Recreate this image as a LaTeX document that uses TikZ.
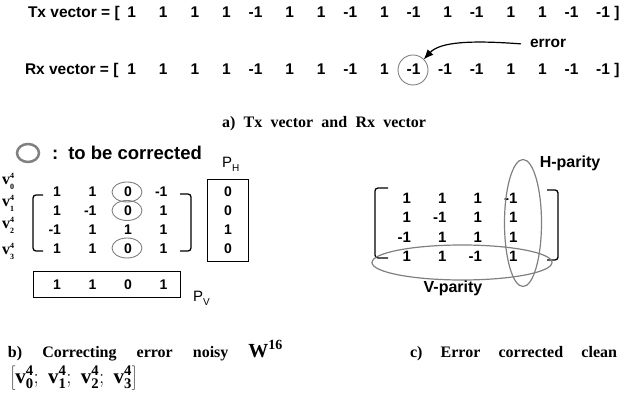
\documentclass[tikz,border=0pt]{standalone}
\usepackage{fontspec}
\setmainfont{Liberation Serif}
\newfontfamily\arialf{Liberation Sans}
\usetikzlibrary{arrows.meta,shapes.geometric}

\begin{document}
\begin{tikzpicture}[x=1pt,y=-1pt,
  every node/.style={inner sep=0pt,outer sep=0pt},
  vec/.style={font=\arialf\bfseries\fontsize{15.5}{16}\selectfont,anchor=base east},
  digb/.style={font=\arialf\bfseries\fontsize{14}{14}\selectfont,anchor=base east},
  digc/.style={font=\arialf\bfseries\fontsize{15}{15}\selectfont,anchor=base east},
  lbl/.style={font=\arialf\bfseries\fontsize{16}{16}\selectfont},
  pfont/.style={font=\arialf\fontsize{15}{15}\selectfont,anchor=base west},
  vtag/.style={font=\fontsize{16}{16}\selectfont,anchor=base west},
  captext/.style={font=\bfseries\fontsize{16}{16}\selectfont,anchor=base west},
  ringmark/.style={circle,draw=gray,line width=0.9pt},
  oval/.style={ellipse,draw=gray,line width=0.9pt,minimum width=30,minimum height=20},
  brk/.style={line width=1.3pt,rounded corners=3pt},
  pbox/.style={draw,line width=1pt}]
\useasboundingbox (0,0) rectangle (624,395);

% ---------- a) transmitted and received vectors ----------
\node[vec,anchor=base west] (txlab) at (28,18) {Tx vector = [};
\foreach \v [count=\i from 0] in {1,1,1,1,-1,1,1,-1,1,-1,1,-1,1,1,-1,-1}
  \node[vec] (tx\i) at ({136+31.6*\i},18) {\v};
\node[vec,anchor=base] (txend) at (617,18) {]};

\node[vec,anchor=base west] (rxlab) at (25,75) {Rx vector = [};
\foreach \v [count=\i from 0] in {1,1,1,1,-1,1,1,-1,1,-1,-1,-1,1,1,-1,-1}
  \node[vec] (rx\i) at ({136+31.6*\i},75) {\v};
\node[vec,anchor=base] (rxend) at (617,75) {]};

\node[ringmark,minimum size=30] (rxc) at (413,70) {};
\node[vec,anchor=base west] (err) at (530,48) {error};
\draw[line width=1.2pt,-{Latex[length=10pt,width=8pt]}]
  ([xshift=-9pt]err.west) .. controls (470,40) and (440,42) .. (rxc.45);

\node[captext,anchor=base] (capa) at (324,128)
  {\makebox[204pt][s]{a) Tx vector and Rx vector}};

% ---------- b) noisy block with parities ----------
\node[ellipse,draw=gray,line width=2.5pt,minimum width=22,minimum height=18] (leg) at (28,153) {};
\node[lbl,font=\arialf\bfseries\fontsize{18.5}{18.5}\selectfont,anchor=west] (legt) at (52,153)
  {:\hspace{0.55em}to be corrected};

\node[pfont] (ph) at (222,168) {P\raisebox{-4pt}{\fontsize{10}{10}\selectfont H}};
\node[pbox,minimum width=41,minimum height=82] (phbox) at (227.5,221) {};
\foreach \v [count=\i from 0] in {0,0,1,0}
  \node[digb,anchor=base] (ph\i) at (228,{197+19*\i}) {\v};

\node[vtag] (v0) at (2,185) {$\mathbf{v}^{\scriptscriptstyle\mathbf{4}}_{\scriptscriptstyle\mathbf{0}}$};
\node[vtag] (v1) at (2,207) {$\mathbf{v}^{\scriptscriptstyle\mathbf{4}}_{\scriptscriptstyle\mathbf{1}}$};
\node[vtag] (v2) at (2,229) {$\mathbf{v}^{\scriptscriptstyle\mathbf{4}}_{\scriptscriptstyle\mathbf{2}}$};
\node[vtag] (v3) at (2,255) {$\mathbf{v}^{\scriptscriptstyle\mathbf{4}}_{\scriptscriptstyle\mathbf{3}}$};

\foreach \r/\row in {0/{1,1,0,-1},1/{1,-1,0,1},2/{-1,1,1,1},3/{1,1,0,1}}
  \foreach \v [count=\c from 0] in \row
    \node[digb] (b\r\c) at ({61+35.5*\c},{197+18.7*\r}) {\v};

\draw[brk] (43,195) -- (33,195) -- (33,251) -- (43,251);
\draw[brk] (180,194) -- (191,194) -- (191,251) -- (180,251);

\node[oval] (o0) at (127,192) {};
\node[oval] (o1) at (127,210.5) {};
\node[oval] (o3) at (127,248) {};

\node[pbox,minimum width=147,minimum height=26] (pvbox) at (106.5,285) {};
\foreach \v [count=\c from 0] in {1,1,0,1}
  \node[digb] (pv\c) at ({61+35.5*\c},290) {\v};
\node[pfont] (pv) at (193,302) {P\raisebox{-4pt}{\fontsize{10}{10}\selectfont V}};

% ---------- c) corrected block ----------
\foreach \r/\row in {0/{1,1,1,-1},1/{1,-1,1,1},2/{-1,1,1,1},3/{1,1,-1,1}}
  \foreach \v [count=\c from 0] in \row
    \node[digc] (c\r\c) at ({411+35.5*\c},{203.5+19.3*\r}) {\v};

\draw[brk] (388,188) -- (375,188) -- (375,258) -- (388,258);
\draw[brk] (547,190) -- (558,190) -- (558,260) -- (547,260);

\node[ellipse,draw=gray,line width=1.2pt,minimum width=37,minimum height=127] (hpar) at (523,223) {};
\node[ellipse,draw=gray,line width=1.2pt,minimum width=180,minimum height=35] (vpar) at (462,262.5) {};
\node[lbl] (hlab) at (570,163) {H-parity};
\node[lbl] (vlab) at (453,288) {V-parity};

% ---------- captions ----------
\node[captext] (capb) at (8,357)
  {\makebox[275pt][s]{b) Correcting error noisy {\fontsize{20}{20}\selectfont$\mathbf{W}^{\mathbf{16}}$}}};
\node[anchor=base west] (capb2) at (10,383)
  {\fontsize{21}{21}\selectfont$\left[\mathbf{v}^{\mathbf{4}}_{\mathbf{0}}\mathbf{;}\mskip8mu\mathbf{v}^{\mathbf{4}}_{\mathbf{1}}\mathbf{;}\mskip8mu\mathbf{v}^{\mathbf{4}}_{\mathbf{2}}\mathbf{;}\mskip8mu\mathbf{v}^{\mathbf{4}}_{\mathbf{3}}\right]$};
\node[captext] (capc) at (410,357) {\makebox[207pt][s]{c) Error corrected clean}};
\end{tikzpicture}
\end{document}
